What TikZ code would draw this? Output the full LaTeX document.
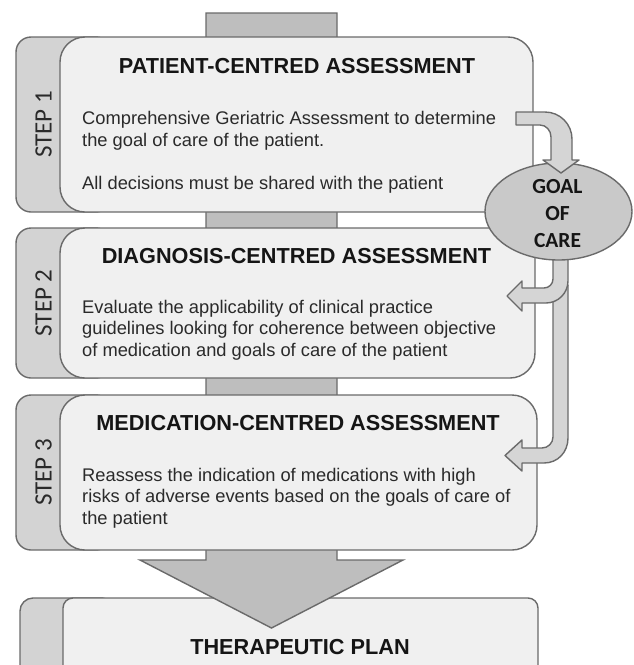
\documentclass[tikz,border=0pt]{standalone}
\usepackage{fontspec}
\setmainfont{Liberation Sans}
\newfontfamily\labelfont{Carlito}
\usetikzlibrary{shapes.geometric}

\definecolor{edge}{HTML}{6A6A6A}
\definecolor{panel}{HTML}{F0F0F0}
\definecolor{tabfill}{HTML}{D3D3D3}
\definecolor{spine}{HTML}{BEBEBE}
\definecolor{goalfill}{HTML}{C9C9C9}
\definecolor{bentfill}{HTML}{D5D5D5}
\definecolor{ink}{HTML}{151515}
\definecolor{bodyink}{HTML}{2A2A2A}

\begin{document}
\begin{tikzpicture}[x=1pt,y=-1pt,
  panelbox/.style={draw=edge, line width=1.4pt, fill=panel, rounded corners=25pt, inner sep=0pt, outer sep=0pt},
  tabbox/.style={draw=edge, line width=1.4pt, fill=tabfill, rounded corners=15pt, inner sep=0pt, outer sep=0pt},
  heading/.style={font=\fontsize{21.7}{26}\selectfont\bfseries, text=ink, anchor=base, inner sep=0pt},
  bodyline/.style={font=\fontsize{18.3}{22}\selectfont, text=bodyink, anchor=base west, inner sep=0pt},
  steplabel/.style={font=\labelfont\fontsize{25}{30}\selectfont, text=bodyink, rotate=90, inner sep=0pt},
  goaltext/.style={font=\labelfont\bfseries\fontsize{21.5}{26}\selectfont, text=ink, anchor=base, inner sep=0pt},
  bent/.style={draw=edge, line width=1.4pt, fill=bentfill, line join=round},
  spinearrow/.style={draw=edge, line width=1.4pt, fill=spine, line join=miter}]

\useasboundingbox (0,0) rectangle (633,665);
\clip (0,0) rectangle (633,665);

% final panel (runs past the lower edge)
\node[tabbox, rounded corners=13pt, minimum width=95pt, minimum height=140pt] (plantab) at (67.5,668) {};
\node[panelbox, rounded corners=10pt, minimum width=475pt, minimum height=140pt] (plan) at (300.5,668) {};

% central spine ending in the large downward arrow head
\path[spinearrow] (206,13) -- (337,13) -- (337,560) -- (403,560) -- (271.5,628)
  -- (140,560) -- (206,560) -- cycle;

% step 1
\node[tabbox, minimum width=95pt, minimum height=175pt] (tab1) at (63.5,124.5) {};
\node[panelbox, minimum width=473pt, minimum height=175pt] (panel1) at (296.5,124.5) {};
% step 2
\node[tabbox, minimum width=95pt, minimum height=150pt] (tab2) at (63.5,303) {};
\node[panelbox, minimum width=475pt, minimum height=150pt] (panel2) at (297.5,303) {};
% step 3
\node[tabbox, minimum width=95pt, minimum height=155pt] (tab3) at (63.5,472.5) {};
\node[panelbox, minimum width=477pt, minimum height=155pt] (panel3) at (298.5,472.5) {};

% step labels
\node[steplabel] (lab1) at (43.5,124.5) {STEP 1};
\node[steplabel] (lab2) at (43.5,303) {STEP 2};
\node[steplabel] (lab3) at (43.5,472.5) {STEP 3};

% step 1 text
\node[heading] (h1) at (297,73.5) {PATIENT-CENTRED ASSESSMENT};
\node[bodyline] (t1a) at (82,124) {Comprehensive Geriatric Assessment to determine};
\node[bodyline] (t1b) at (82,146) {the goal of care of the patient.};
\node[bodyline] (t1c) at (82,189) {All decisions must be shared with the patient};

% step 2 text
\node[heading] (h2) at (296.5,263) {DIAGNOSIS-CENTRED ASSESSMENT};
\node[bodyline] (t2a) at (82,313) {Evaluate the applicability of clinical practice};
\node[bodyline] (t2b) at (82,334.7) {guidelines looking for coherence between objective};
\node[bodyline] (t2c) at (82,356.4) {of medication and goals of care of the patient};

% step 3 text
\node[heading] (h3) at (298,430.5) {MEDICATION-CENTRED ASSESSMENT};
\node[bodyline] (t3a) at (82,481) {Reassess the indication of medications with high};
\node[bodyline] (t3b) at (82,502.7) {risks of adverse events based on the goals of care of};
\node[bodyline] (t3c) at (82,524.4) {the patient};

% final panel text
\node[heading] (h4) at (300,654.5) {THERAPEUTIC PLAN};

% long bent arrow into step 3
\path[bent] (553,285) -- (553,437) .. controls (553,443.1) and (547.9,448) .. (542,448)
  -- (522,448) -- (522,440) -- (505,455.5) -- (522,471) -- (522,463) -- (544,463)
  .. controls (557.8,463) and (568,452.2) .. (568,438) -- (568,285) -- cycle;

% bent arrow into step 2
\path[bent] (553,240) -- (553,279) .. controls (553,284) and (549,288) .. (544,288)
  -- (522,288) -- (522,281) -- (507,296) -- (522,311) -- (522,303) -- (546,303)
  .. controls (558.1,303) and (568,293.1) .. (568,281) -- (568,240) -- cycle;

% goal of care
\node[draw=edge, line width=1.4pt, fill=goalfill, ellipse, minimum width=147pt,
  minimum height=97pt, inner sep=0pt] (goal) at (558.5,211.5) {};
\node[goaltext] (g1) at (557.5,193) {GOAL};
\node[goaltext] (g2) at (557.5,220.5) {OF};
\node[goaltext] (g3) at (557.5,247) {CARE};

% bent arrow from step 1 down to the goal of care
\path[bent] (516,112) -- (545,112) .. controls (559.9,112) and (572,124.1) .. (572,139)
  -- (572,160) -- (579,160) -- (561,173) -- (543,160) -- (551,160) -- (551,137)
  .. controls (551,130.4) and (546.1,125) .. (540,125) -- (516,125) -- cycle;

\end{tikzpicture}
\end{document}
